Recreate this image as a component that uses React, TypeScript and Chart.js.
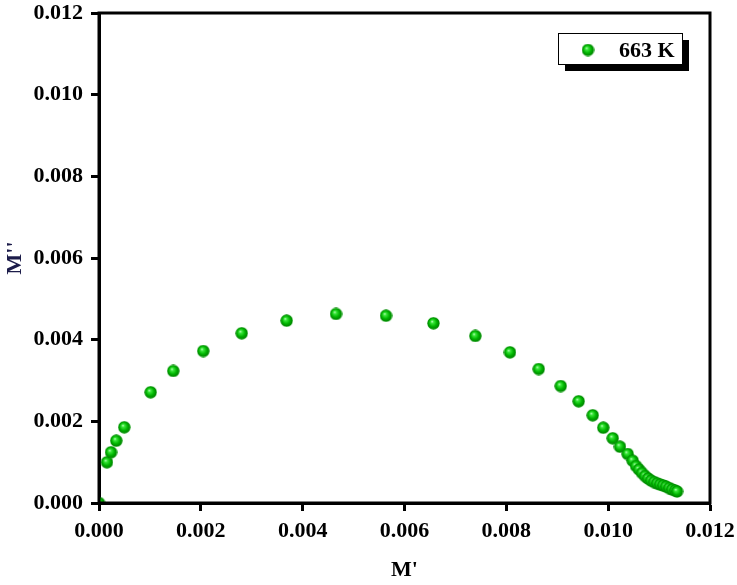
import React, { useEffect, useRef } from "react";
import { Chart, registerables } from "chart.js";

Chart.register(...registerables);

const seriesLabel = "663 K";
const xTitle = "M'";
const yTitle = "M''";

// M' values
const mReal = [
  0.0, 0.000157, 0.000236, 0.00034, 0.000497, 0.001015, 0.001459, 0.002048,
  0.002803, 0.003686, 0.004655, 0.005637, 0.006569, 0.007391, 0.008072,
  0.008636, 0.009068, 0.009421, 0.009696, 0.009904, 0.010089, 0.010232,
  0.010383, 0.010481, 0.010547, 0.010606, 0.010665, 0.010724, 0.010783,
  0.010842, 0.010901, 0.01096, 0.011019, 0.011077, 0.011136, 0.011195,
  0.011254, 0.011313, 0.011352,
];
// M'' values
const mImag = [
  0.0, 0.000997, 0.001242, 0.001526, 0.001854, 0.002711, 0.003233, 0.003722,
  0.004156, 0.004465, 0.004629, 0.004587, 0.004401, 0.00409, 0.00369,
  0.003281, 0.002865, 0.002491, 0.002148, 0.001844, 0.001585, 0.001379,
  0.0012, 0.001036, 0.000906, 0.00082, 0.000735, 0.000661, 0.0006, 0.000551,
  0.000514, 0.000482, 0.000453, 0.000429, 0.000404, 0.000367, 0.000331,
  0.000306, 0.000282,
];

const axisMin = 0;
const axisMax = 0.012;
const axisStep = 0.002;

function makeSphere(size: number): HTMLCanvasElement {
  const c = document.createElement("canvas");
  c.width = size;
  c.height = size;
  const ctx = c.getContext("2d")!;
  const r = size / 2;
  const g = ctx.createRadialGradient(r - 1.5, r - 2, 0, r, r, r);
  g.addColorStop(0, "#d8ffd8");
  g.addColorStop(0.22, "#3be83b");
  g.addColorStop(0.6, "#00b400");
  g.addColorStop(0.9, "#008400");
  g.addColorStop(1, "#2fbf2f");
  ctx.fillStyle = g;
  ctx.beginPath();
  ctx.arc(r, r, r - 0.3, 0, Math.PI * 2);
  ctx.fill();
  return c;
}

export default function App() {
  const ref = useRef<HTMLCanvasElement | null>(null);

  useEffect(() => {
    if (!ref.current) return;
    const sphere = makeSphere(13);
    const fontFamily = "'Liberation Serif', 'Times New Roman', serif";

    const framePlugin = {
      id: "frameAndLegend",
      afterDraw(chart: any) {
        const { ctx, chartArea } = chart;
        ctx.save();
        ctx.strokeStyle = "#000";
        ctx.lineWidth = 3;
        ctx.strokeRect(
          chartArea.left,
          chartArea.top,
          chartArea.right - chartArea.left,
          chartArea.bottom - chartArea.top
        );
        // legend with shadow
        const bx = 558, by = 33, bw = 124, bh = 31, sh = 7;
        ctx.fillStyle = "#000";
        ctx.fillRect(bx + sh, by + sh, bw, bh);
        ctx.fillStyle = "#fff";
        ctx.fillRect(bx, by, bw, bh);
        ctx.lineWidth = 1;
        ctx.strokeStyle = "#000";
        ctx.strokeRect(bx + 0.5, by + 0.5, bw, bh);
        ctx.drawImage(sphere, 588 - 6.5, 50 - 6.5, 13, 13);
        ctx.fillStyle = "#000";
        ctx.font = `bold 22px ${fontFamily}`;
        ctx.textAlign = "left";
        ctx.textBaseline = "alphabetic";
        ctx.fillText(chart.data.datasets[0].label, 619, 57);
        ctx.restore();
      },
    };

    const chart = new Chart(ref.current, {
      type: "scatter",
      data: {
        datasets: [
          {
            label: seriesLabel,
            data: mReal.map((x, i) => ({ x, y: mImag[i] })),
            pointStyle: sphere as any,
            pointRadius: 6.5,
            pointHoverRadius: 6.5,
            clip: 0 as any,
          },
        ],
      },
      options: {
        animation: false,
        responsive: true,
        maintainAspectRatio: false,
        events: [],
        layout: { padding: { top: 13, right: 27, bottom: 0, left: 0 } },
        plugins: {
          legend: { display: false },
          tooltip: { enabled: false },
        },
        scales: {
          x: {
            type: "linear",
            min: axisMin,
            max: axisMax,
            afterFit(scale: any) {
              scale.height = 82;
              scale.paddingLeft = 0;
              scale.paddingRight = 0;
            },
            ticks: {
              stepSize: axisStep,
              padding: 7,
              color: "#000",
              font: { family: fontFamily, size: 22, weight: "bold" },
              callback: (v: any) => Number(v).toFixed(3),
              maxRotation: 0,
            },
            grid: {
              display: true,
              drawOnChartArea: false,
              drawTicks: true,
              tickLength: 8,
              tickWidth: 3,
              tickColor: "#000",
            },
            border: { display: true, color: "#000", width: 3 },
            title: {
              display: true,
              text: xTitle,
              color: "#000",
              font: { family: fontFamily, size: 22, weight: "bold" },
              padding: { top: 0, bottom: 1 },
            },
          },
          y: {
            type: "linear",
            min: axisMin,
            max: axisMax,
            afterFit(scale: any) {
              scale.width = 99;
              scale.paddingTop = 0;
              scale.paddingBottom = 0;
            },
            ticks: {
              stepSize: axisStep,
              padding: 8,
              color: "#000",
              font: { family: fontFamily, size: 22, weight: "bold", lineHeight: 1.1 },
              callback: (v: any) => Number(v).toFixed(3),
            },
            grid: {
              display: true,
              drawOnChartArea: false,
              drawTicks: true,
              tickLength: 8,
              tickWidth: 3,
              tickColor: "#000",
            },
            border: { display: true, color: "#000", width: 3 },
            title: {
              display: true,
              text: yTitle,
              color: "#1c1c4a",
              font: { family: fontFamily, size: 22, weight: "bold" },
              padding: { top: 2, bottom: 0 },
            },
          },
        },
      },
      plugins: [framePlugin],
    });

    return () => chart.destroy();
  }, []);

  return (
    <div
      style={{
        position: "fixed",
        left: 0,
        top: 0,
        width: 737,
        height: 585,
        background: "#fff",
      }}
    >
      <canvas ref={ref} />
    </div>
  );
}
